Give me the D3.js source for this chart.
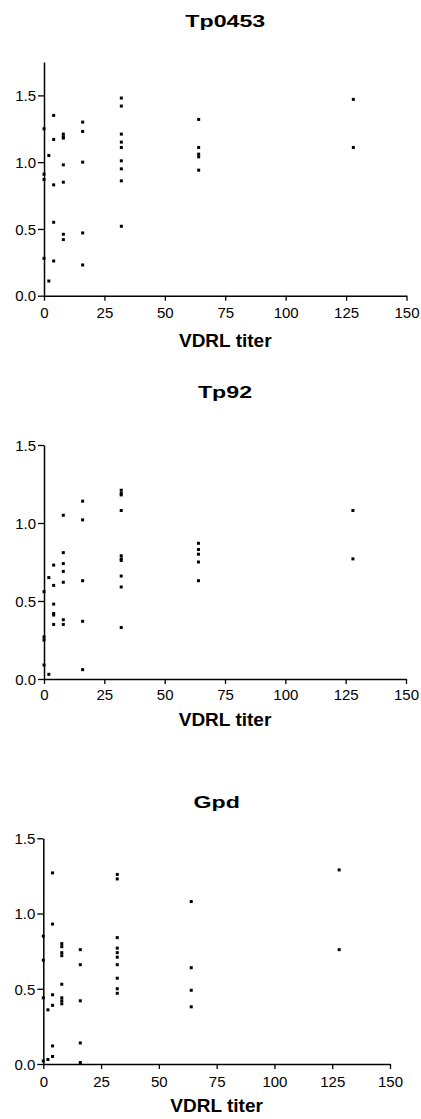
<!DOCTYPE html>
<html><head><meta charset="utf-8">
<script src="https://cdn.jsdelivr.net/npm/d3@7"></script>
<style>
html,body{margin:0;padding:0;background:#fff;}
svg{display:block;}
text{font-family:"Liberation Sans",Arial,sans-serif;fill:#000;}
</style></head>
<body>
<svg id="chart" width="421" height="1119"></svg>
<script>
// ---- data ----
const panelTitles = ["Tp0453", "Tp92", "Gpd"];
const xLabel = "VDRL titer";
const xTicks = [0, 25, 50, 75, 100, 125, 150];
const yTicks = [0, 0.5, 1.0, 1.5];

const tp0453Titer = [0,0,0,0, 2,2, 4,4,4,4,4, 8,8,8,8,8,8,8, 16,16,16,16,16,
  32,32,32,32,32,32,32,32,32, 64,64,64,64,64, 128,128];
const tp0453OD = [1.25,0.91,0.87,0.28, 1.05,0.11, 1.35,1.17,0.83,0.55,0.26,
  1.21,1.19,1.18,0.98,0.85,0.46,0.42, 1.30,1.23,1.00,0.47,0.23,
  1.48,1.42,1.21,1.15,1.11,1.01,0.95,0.86,0.52, 1.32,1.11,1.06,1.04,0.94, 1.47,1.11];

const tp92Titer = [0,0,0,0, 2,2, 4,4,4,4,4,4, 8,8,8,8,8,8,8, 16,16,16,16,16,
  32,32,32,32,32,32,32,32,32,32, 64,64,64,64,64, 128,128];
const tp92OD = [0.56,0.27,0.25,0.09, 0.65,0.03, 0.73,0.60,0.48,0.42,0.41,0.35,
  1.05,0.81,0.74,0.69,0.62,0.38,0.35, 1.14,1.02,0.63,0.37,0.06,
  1.21,1.19,1.18,1.08,0.79,0.77,0.76,0.66,0.59,0.33, 0.87,0.83,0.80,0.75,0.63, 1.08,0.77];

const gpdTiter = [0,0,0,0, 2,2, 4,4,4,4,4,4, 8,8,8,8,8,8,8,8, 16,16,16,16,16,
  32,32,32,32,32,32,32,32,32,32, 64,64,64,64, 128,128];
const gpdOD = [0.85,0.69,0.44,0.02, 0.36,0.03, 1.27,0.93,0.46,0.39,0.12,0.05,
  0.80,0.78,0.74,0.72,0.53,0.44,0.42,0.40, 0.76,0.66,0.42,0.14,0.01,
  1.26,1.23,0.84,0.77,0.74,0.71,0.66,0.57,0.50,0.47, 1.08,0.64,0.49,0.38, 1.29,0.76];

const seriesTiter = [tp0453Titer, tp92Titer, gpdTiter];
const seriesOD = [tp0453OD, tp92OD, gpdOD];
const yMax = [1.75, 1.5, 1.5];

// ---- layout ----
const layout = [
  {x0:44, x1:406.5, y0:295.7, y1:62,  title:26.5,  tickBase:318,  label:347},
  {x0:44, x1:406,   y0:679,   y1:445, title:398,   tickBase:700,  label:726},
  {x0:43.3, x1:390, y0:1064,  y1:838.3, title:808, tickBase:1087, label:1112}
];

const svg = d3.select("#chart");

layout.forEach((L, i) => {
  const x = d3.scaleLinear().domain([0,150]).range([L.x0, L.x1]);
  const y = d3.scaleLinear().domain([0,yMax[i]]).range([L.y0, L.y1]);
  const g = svg.append("g");

  // x axis
  const xa = g.append("g").attr("transform", `translate(0,${L.y0})`)
    .call(d3.axisBottom(x).tickValues(xTicks).tickSize(5).tickSizeOuter(0).tickFormat(d3.format("d")));
  xa.select(".domain").attr("stroke", "#000").attr("stroke-width", 1.5);
  xa.selectAll(".tick line").attr("stroke", "#000").attr("stroke-width", 1.3);
  xa.selectAll(".tick text").attr("font-size", 15).attr("dy", null).attr("y", L.tickBase - L.y0);

  // y axis
  const ya = g.append("g").attr("transform", `translate(${L.x0},0)`)
    .call(d3.axisLeft(y).tickValues(yTicks).tickSize(6).tickSizeOuter(0).tickPadding(2).tickFormat(d3.format(".1f")));
  ya.select(".domain").attr("stroke", "#000").attr("stroke-width", 1.5);
  ya.selectAll(".tick line").attr("stroke", "#000").attr("stroke-width", 1.3);
  ya.selectAll(".tick text").attr("font-size", 15).attr("dy", "0.35em");

  // points
  const pts = seriesTiter[i].map((t, k) => [t, seriesOD[i][k]]);
  g.selectAll("rect.pt").data(pts).join("rect")
    .attr("class", "pt")
    .attr("x", d => x(d[0]) - 1.5)
    .attr("y", d => y(d[1]) - 1.5)
    .attr("width", 3).attr("height", 3)
    .attr("fill", "#000");

  // title (horizontally stretched bold)
  const cx = (L.x0 + L.x1) / 2;
  const sx = 1.45;
  g.append("text")
    .attr("transform", `translate(${cx},${L.title}) scale(${sx},1)`)
    .attr("text-anchor", "middle")
    .attr("font-size", 16).attr("font-weight", "bold")
    .text(panelTitles[i]);

  // x label
  g.append("text")
    .attr("x", cx).attr("y", L.label)
    .attr("text-anchor", "middle")
    .attr("font-size", 19).attr("font-weight", "bold")
    .text(xLabel);
});
</script>
</body></html>
